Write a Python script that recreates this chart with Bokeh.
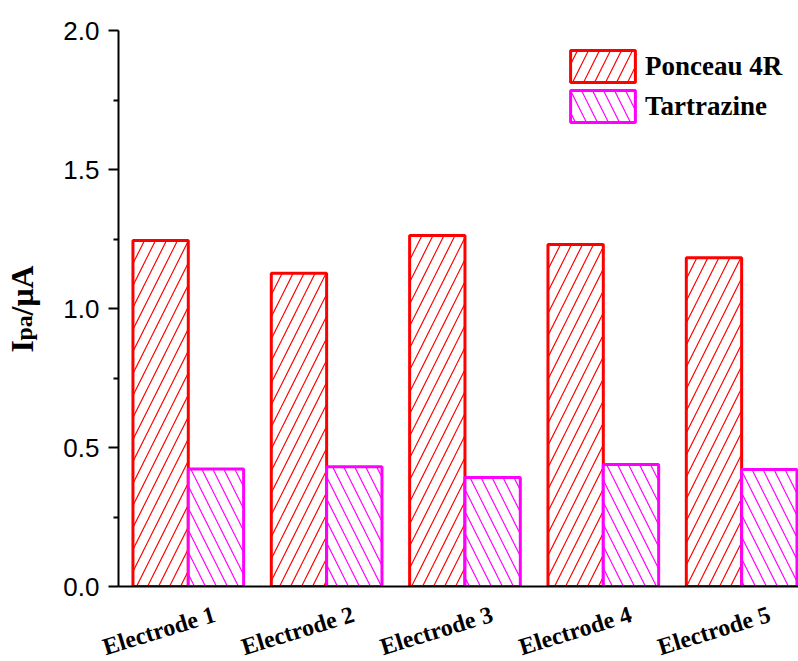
import math
from bokeh.plotting import figure
from bokeh.layouts import row, column
from bokeh.models import Range1d, FixedTicker, Legend, LegendItem, PrintfTickFormatter
from bokeh.core.properties import value
from bokeh.embed import file_html
from bokeh.resources import INLINE

# ---- data ----
electrodes = ["Electrode 1", "Electrode 2", "Electrode 3", "Electrode 4", "Electrode 5"]
ponceau = [1.245, 1.127, 1.263, 1.230, 1.183]
tartrazine = [0.423, 0.431, 0.392, 0.439, 0.421]
y_ticks = [0.0, 0.5, 1.0, 1.5, 2.0]
y_minor = [0.25, 0.75, 1.25, 1.75]
series_names = ["Ponceau 4R", "Tartrazine"]
y_title = ["I", "pa", "/μA"]

pos = list(range(len(electrodes)))
bw = 0.4

LW, H = 60, 661
PW = 798 - LW
MAIN_H = 600
XL_H = H - MAIN_H
PX_PER_UNIT = 138.75
X_END = 4.411

# ---- y title panel ----
dx, dy = -13, 0   # text anchor correction
lab = figure(width=LW, height=H, x_range=Range1d(0, LW), y_range=Range1d(0, H),
             x_axis_type=None, y_axis_type=None, output_backend="svg",
             toolbar_location=None, min_border=0)
lab.frame_align = False
lab.outline_line_color = None
lab.xgrid.visible = False
lab.ygrid.visible = False
for txt, sx, sy, fs in zip(y_title, [34, 36, 34], [352, 340, 315], ["32px", "24px", "32px"]):
    lab.text(x=[sx + dx], y=[H - (sy + dy)], text=[txt], angle=math.pi / 2,
             text_align="left", text_baseline="alphabetic",
             text_font=value("Liberation Serif"), text_font_style="bold",
             text_font_size=fs, text_color="black")

# ---- main plot ----
p = figure(width=PW, height=MAIN_H,
           x_range=Range1d(-0.5045, X_END), y_range=Range1d(0, 2.0),
           output_backend="svg", toolbar_location=None,
           min_border_left=116 - LW, min_border_right=0,
           min_border_top=30, min_border_bottom=MAIN_H - 586)
p.outline_line_color = None
p.xgrid.visible = False
p.ygrid.visible = False

r1 = p.vbar(x=[x - bw / 2 for x in pos], top=ponceau, width=bw, bottom=0,
            fill_color="white", line_color="#FF0000", line_width=3,
            hatch_pattern="/", hatch_color="#FF0000", hatch_scale=22, hatch_weight=1.2)
r2 = p.vbar(x=[x + bw / 2 for x in pos], top=tartrazine, width=bw, bottom=0,
            fill_color="white", line_color="#FF00FF", line_width=3,
            hatch_pattern="\\", hatch_color="#FF00FF", hatch_scale=22, hatch_weight=1.2)

ya = p.yaxis[0]
ya.ticker = FixedTicker(ticks=y_ticks, minor_ticks=y_minor)
ya.formatter = PrintfTickFormatter(format="%.1f")
ya.axis_line_width = 2
ya.major_tick_line_width = 2
ya.minor_tick_line_width = 2
ya.major_tick_in = 0
ya.major_tick_out = 10
ya.minor_tick_in = 0
ya.minor_tick_out = 5
ya.major_label_standoff = 9
ya.major_label_text_font = "Liberation Sans"
ya.major_label_text_font_size = "26px"
ya.major_label_text_color = "black"

xa = p.xaxis[0]
xa.ticker = FixedTicker(ticks=[])
xa.axis_line_width = 2
xa.major_tick_line_color = None
xa.minor_tick_line_color = None
xa.major_tick_in = 0
xa.major_tick_out = 0
xa.major_label_standoff = 0

legend = Legend(items=[LegendItem(label=series_names[0], renderers=[r1]),
                       LegendItem(label=series_names[1], renderers=[r2])],
                location=(444, 460))
legend.padding = 0
legend.margin = 0
legend.spacing = -4
legend.border_line_color = None
legend.background_fill_alpha = 0
legend.glyph_width = 81
legend.glyph_height = 40
legend.label_height = 40
legend.label_standoff = 2
legend.label_text_font = "Liberation Serif"
legend.label_text_font_style = "bold"
legend.label_text_font_size = "27px"
legend.label_text_color = "black"
p.add_layout(legend)

# ---- category label strip (same x scale as the main plot, wider frame) ----
xl = figure(width=PW, height=XL_H,
            x_range=Range1d(X_END - PW / PX_PER_UNIT, X_END), y_range=Range1d(0, XL_H),
            x_axis_type=None, y_axis_type=None, output_backend="svg",
            toolbar_location=None, min_border=0)
xl.frame_align = False
xl.outline_line_color = None
xl.xgrid.visible = False
xl.ygrid.visible = False
xl.text(x=pos, y=[XL_H - (630 - MAIN_H)] * len(pos), text=electrodes,
        x_offset=-27.5, angle=math.radians(17),
        text_align="center", text_baseline="middle",
        text_font=value("Liberation Serif"), text_font_style="bold",
        text_font_size="24px", text_color="black")

open("out.html", "w").write(file_html(row(lab, column(p, xl)), INLINE))
